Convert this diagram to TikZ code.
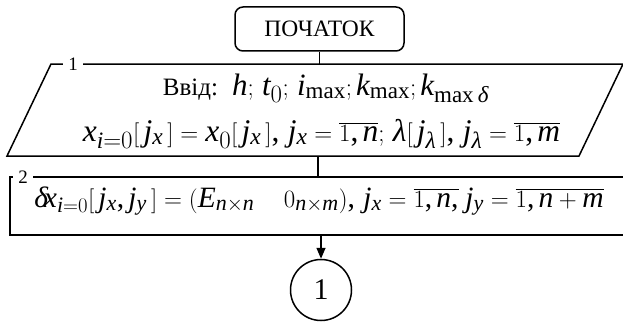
\documentclass[tikz,border=0pt]{standalone}
\usepackage{fontspec}
\setmainfont{Liberation Serif}[NFSSFamily=libser]
\DeclareSymbolFont{operators}{TU}{libser}{m}{n}
\DeclareSymbolFont{letters}{TU}{libser}{m}{it}
\Umathcode`,="6 "0 "2C
\Umathcode`;="6 "0 "3B
\Umathchardef\mydelta="0 "1 "03B4
\Umathchardef\mylambda="0 "1 "03BB
\DeclareMathSizes{29.5}{29.5}{22}{16}
\DeclareMathSizes{31}{31}{23}{17}
\DeclareMathSizes{31.5}{31.5}{23.5}{17}
\usetikzlibrary{arrows.meta}
\tikzset{
  line/.style={line width=1.5pt},
  startbox/.style={draw, line, rounded corners=8pt, minimum width=169pt, minimum height=44pt, inner sep=0pt, font=\fontsize{23.5}{27}\selectfont},
  procbox/.style={draw, line, minimum width=620pt, minimum height=58pt, inner sep=0pt},
  numlbl/.style={fill=white, inner xsep=5pt, inner ysep=1pt, font=\fontsize{19}{22}\selectfont},
  mtext/.style={anchor=base, inner sep=0pt},
  conn/.style={draw, circle, line, minimum size=61pt, inner sep=0pt, font=\fontsize{30}{34}\selectfont},
}
\begin{document}
\begin{tikzpicture}[x=1pt,y=-1pt]
\useasboundingbox (0,0) rectangle (623,321);
% start terminal
\node[startbox] (start) at (319.5,29) {ПОЧАТОК};
% input parallelogram
\coordinate (pTL) at (51,64);
\coordinate (pTR) at (623,64);
\coordinate (pBR) at (579,156);
\coordinate (pBL) at (7,156);
\coordinate (pBot) at (318,156);
\draw[line] (pTL) -- (pTR) -- (pBR) -- (pBL) -- cycle;
\node[numlbl] (lbl1) at (73,64) {1};
\node[mtext] (in1) at (326,95) {{\fontsize{25}{30}\selectfont Ввід:}\hspace{14pt}\fontsize{31}{34}\selectfont$h;\,t_0;\,i_{\max};k_{\max};k_{\max\mydelta}$};
\node[mtext, font=\fontsize{31.5}{34}\selectfont] (in2) at (321.5,141) {$x_{i=0}[\,j_x\,] = x_0[\,j_x\,],\, j_x = \overline{1,n};\, \mylambda[\,j_\mylambda\,],\, j_\mylambda = \overline{1,m}$};
% process block
\node[procbox] (proc) at (320,206) {};
\node[numlbl] (lbl2) at (23,177) {2};
\node[mtext, font=\fontsize{29.5}{32}\selectfont] (t3) at (319,207) {$\mydelta\!x_{i=0}[\,j_x, j_y\,] = (E_{n\times n}\quad 0_{n\times m}),\, j_x = \overline{1,n,}\; j_y = \overline{1,n+m}$};
% connector circle
\node[conn] (c1) at (321,290) {1};
% connectors
\draw[line] (start.south) -- (start.south |- pTL);
\draw[line] (pBot) -- (pBot |- proc.north);
\draw[line, -{Triangle[length=11pt,width=9pt]}] (c1.north |- proc.south) -- (c1.north);
\end{tikzpicture}
\end{document}
